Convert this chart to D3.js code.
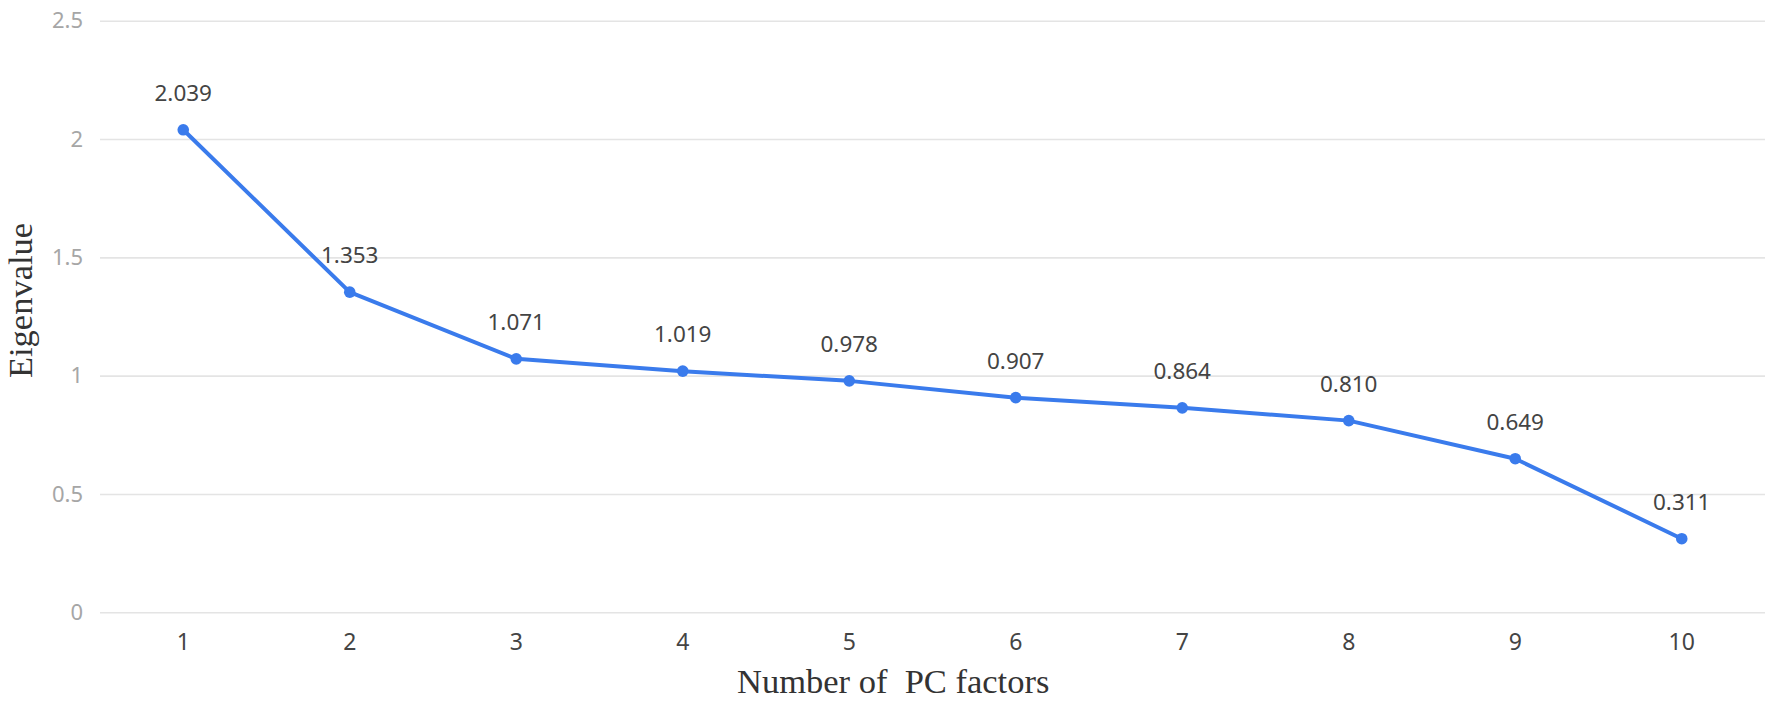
<!DOCTYPE html>
<html>
<head>
<meta charset="utf-8">
<script src="https://cdn.jsdelivr.net/npm/d3@7"></script>
<style>
  body { margin: 0; background: #fff; }
  svg { display: block; }
</style>
</head>
<body>
<div id="container"></div>
<script>
/* DATA */
const factors = ["1", "2", "3", "4", "5", "6", "7", "8", "9", "10"]
const eigenvalues = [2.039, 1.353, 1.071, 1.019, 0.978, 0.907, 0.864, 0.810, 0.649, 0.311]
const yTicks = [0, 0.5, 1, 1.5, 2, 2.5]

/* CONSTANTS */
const width = 1772,
  height = 702,
  margin = { top: 20.7, bottom: 89.7, left: 100, right: 7 }

const data = factors.map((f, i) => ({ factor: f, value: eigenvalues[i] }))

// SCALES
const xScale = d3.scaleBand()
  .domain(factors)
  .range([margin.left, width - margin.right])

const yScale = d3.scaleLinear()
  .domain([0, 2.5])
  .range([height - margin.bottom, margin.top])

const cx = d => xScale(d) + xScale.bandwidth() / 2

const svg = d3.select("#container")
  .append("svg")
  .attr("width", width)
  .attr("height", height)

// GRID + Y AXIS
const yAxis = d3.axisLeft(yScale)
  .tickValues(yTicks)
  .tickFormat(d => d)
  .tickSize(-(width - margin.left - margin.right))
  .tickPadding(17)

svg.append("g")
  .attr("transform", `translate(${margin.left},0)`)
  .call(yAxis)
  .call(g => g.select(".domain").remove())
  .call(g => g.selectAll(".tick line").attr("stroke", "#e4e4e4").attr("stroke-width", 1.6))
  .call(g => g.selectAll(".tick text")
    .attr("fill", "#a6a6a6")
    .attr("font-family", "'Noto Sans', 'Open Sans', sans-serif")
    .attr("font-size", 22))

// X AXIS
const xAxis = d3.axisBottom(xScale).tickSize(0).tickPadding(21)

svg.append("g")
  .attr("transform", `translate(0,${height - margin.bottom})`)
  .call(xAxis)
  .call(g => g.select(".domain").remove())
  .call(g => g.selectAll(".tick text")
    .attr("fill", "#444")
    .attr("font-family", "'Noto Sans', 'Open Sans', sans-serif")
    .attr("font-size", 23))

// LINE
const line = d3.line()
  .x(d => cx(d.factor))
  .y(d => yScale(d.value))

svg.append("path")
  .datum(data)
  .attr("d", line)
  .attr("fill", "none")
  .attr("stroke", "#3a7bec")
  .attr("stroke-width", 4)
  .attr("stroke-linejoin", "round")

svg.selectAll("circle.pt")
  .data(data)
  .join("circle")
  .attr("class", "pt")
  .attr("cx", d => cx(d.factor))
  .attr("cy", d => yScale(d.value))
  .attr("r", 5.8)
  .attr("fill", "#3a7bec")

svg.selectAll("text.val")
  .data(data)
  .join("text")
  .attr("class", "val")
  .attr("x", d => cx(d.factor))
  .attr("y", d => yScale(d.value) - 29)
  .attr("text-anchor", "middle")
  .attr("fill", "#444")
  .attr("font-family", "'Noto Sans', 'Open Sans', sans-serif")
  .attr("font-size", 22.5)
  .text(d => d.value.toFixed(3))

// AXIS TITLES
svg.append("text")
  .attr("x", 737)
  .attr("y", 693)
  .attr("fill", "#333")
  .attr("font-family", "'Liberation Serif', 'Times New Roman', serif")
  .attr("font-size", 34.5)
  .style("white-space", "pre")
  .text("Number of  PC factors")

svg.append("text")
  .attr("transform", "translate(32,300.5) rotate(-90)")
  .attr("text-anchor", "middle")
  .attr("fill", "#333")
  .attr("font-family", "'Liberation Serif', 'Times New Roman', serif")
  .attr("font-size", 34.5)
  .text("Eigenvalue")
</script>
</body>
</html>
